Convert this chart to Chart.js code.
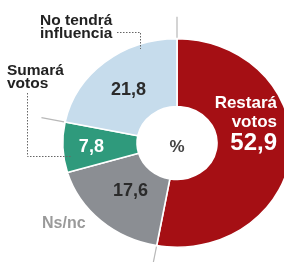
<!DOCTYPE html>
<html>
<head>
<meta charset="utf-8">
<script src="https://cdn.jsdelivr.net/npm/chart.js@4"></script>
<style>
  html, body { margin: 0; padding: 0; background: #fff; overflow: hidden; }
  #wrap { position: relative; width: 284px; height: 262px; }
</style>
</head>
<body>
<div id="wrap"><canvas id="myChart-votos" width="284" height="262"></canvas></div>
<script>
const categories = ["Restará votos", "Ns/nc", "Sumará votos", "No tendrá influencia"];
const values = [52.9, 17.6, 7.8, 21.8];
const valueLabels = ["52,9", "17,6", "7,8", "21,8"];
const colors = ["#a50f14", "#8b8e93", "#2f9a7c", "#c6dcec"];

const SX = 1.096; // the pie is a little wider than tall
const FONT = '"Liberation Sans", Arial, sans-serif';
const labelRadius = [0, 0.61, 0.75, 0.67];
const labelColor = ["#fff", "#2b2b2b", "#fff", "#2b2b2b"];

const ellipse = {
  id: "ellipse",
  beforeDatasetsDraw(chart) {
    const arc = chart.getDatasetMeta(0).data[0];
    const ctx = chart.ctx;
    ctx.save();
    ctx.translate(arc.x, 0);
    ctx.scale(SX, 1);
    ctx.translate(-arc.x, 0);
  },
  afterDatasetsDraw(chart) {
    chart.ctx.restore();
  },
  afterDraw(chart) {
    const ctx = chart.ctx;
    const arcs = chart.getDatasetMeta(0).data;
    const cx = arcs[0].x, cy = arcs[0].y, r = arcs[0].outerRadius;
    const pt = (a, d) => [cx + SX * d * Math.cos(a), cy + d * Math.sin(a)];

    // grey ticks continuing some slice borders
    ctx.save();
    ctx.strokeStyle = "#b8b8b8";
    ctx.lineWidth = 1.2;
    [arcs[0].startAngle, arcs[0].endAngle, arcs[2].endAngle].forEach((a) => {
      const p1 = pt(a, r + 1), p2 = pt(a, r + 22);
      ctx.beginPath(); ctx.moveTo(p1[0], p1[1]); ctx.lineTo(p2[0], p2[1]); ctx.stroke();
    });

    // dotted leaders
    ctx.strokeStyle = "#666";
    ctx.lineWidth = 1;
    ctx.setLineDash([1.5, 1.5]);
    ctx.beginPath();
    ctx.moveTo(117, 32.5); ctx.lineTo(140.5, 32.5); ctx.lineTo(140.5, 49);
    ctx.moveTo(27.5, 93); ctx.lineTo(27.5, 156.5); ctx.lineTo(72, 156.5);
    ctx.stroke();
    ctx.setLineDash([]);

    // value labels inside the slices
    ctx.textAlign = "center";
    ctx.textBaseline = "middle";
    ctx.font = `bold 18px ${FONT}`;
    arcs.forEach((arc, i) => {
      if (i === 0) return;
      const a = (arc.startAngle + arc.endAngle) / 2;
      const p = pt(a, labelRadius[i] * r);
      ctx.fillStyle = labelColor[i];
      ctx.fillText(valueLabels[i], p[0], p[1] + 1);
    });

    // red slice label
    ctx.textAlign = "right";
    ctx.textBaseline = "alphabetic";
    ctx.fillStyle = "#fff";
    ctx.font = `bold 17px ${FONT}`;
    ctx.fillText("Restará", 277, 108);
    ctx.fillText("votos", 277, 127);
    ctx.font = `bold 24px ${FONT}`;
    ctx.fillText(valueLabels[0], 277, 150);

    // centre
    ctx.textAlign = "center";
    ctx.fillStyle = "#444";
    ctx.font = `600 17px ${FONT}`;
    ctx.fillText("%", cx, 152);

    // category names outside
    ctx.textAlign = "left";
    ctx.fillStyle = "#222";
    ctx.font = `bold 15.5px ${FONT}`;
    ctx.fillText("No tendrá", 40, 25);
    ctx.fillText("influencia", 40, 38);
    ctx.fillText("Sumará", 7, 75);
    ctx.fillText("votos", 7, 88);
    ctx.fillStyle = "#9a9a9a";
    ctx.font = `bold 16px ${FONT}`;
    ctx.fillText("Ns/nc", 42, 228);
    ctx.restore();
  },
};

new Chart(document.getElementById("myChart-votos"), {
  type: "doughnut",
  data: {
    labels: categories,
    datasets: [
      {
        data: values,
        backgroundColor: colors,
        borderColor: "#fff",
        borderWidth: 1.5,
        clip: false,
      },
    ],
  },
  options: {
    responsive: false,
    animation: false,
    events: [],
    cutout: "35%",
    layout: { padding: { left: 72, right: 2, top: 38, bottom: 14 } },
    plugins: {
      legend: { display: false },
      tooltip: { enabled: false },
    },
  },
  plugins: [ellipse],
});
</script>
</body>
</html>
